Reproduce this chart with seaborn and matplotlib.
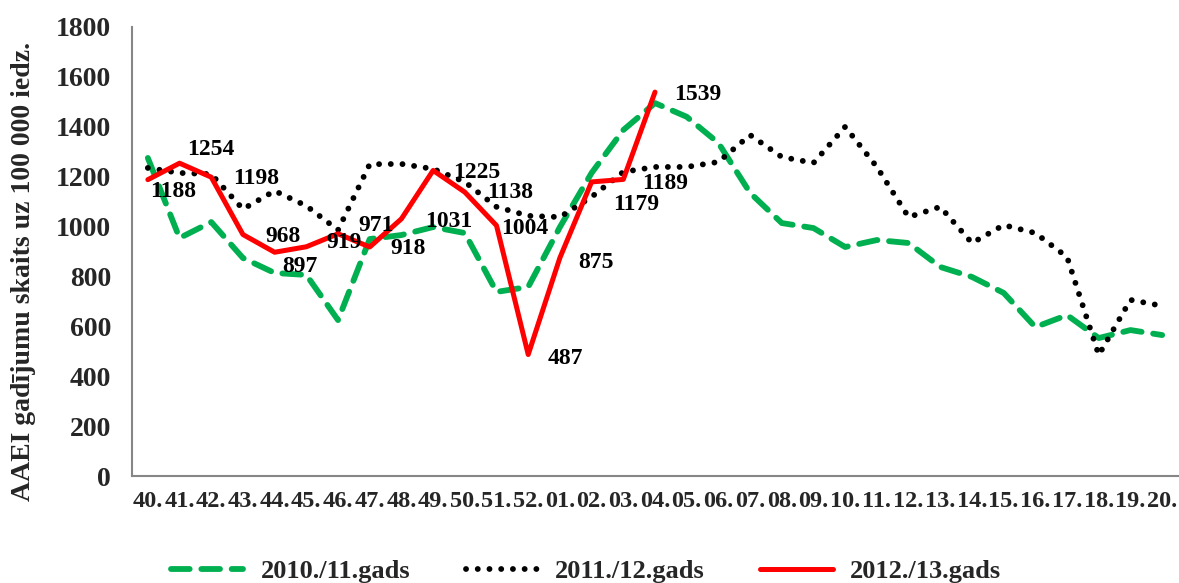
import numpy as np
import pandas as pd
import matplotlib
matplotlib.use("Agg")
import matplotlib.pyplot as plt
import seaborn as sns
from matplotlib.ticker import FixedLocator

weeks = ["40.", "41.", "42.", "43.", "44.", "45.", "46.", "47.", "48.", "49.", "50.",
         "51.", "52.", "01.", "02.", "03.", "04.", "05.", "06.", "07.", "08.", "09.",
         "10.", "11.", "12.", "13.", "14.", "15.", "16.", "17.", "18.", "19.", "20."]

s_2010 = [1275, 954, 1018, 874, 814, 806, 625, 950, 966, 998, 974, 738, 758, 998,
          1215, 1387, 1495, 1440, 1335, 1135, 1014, 994, 918, 946, 934, 838, 798,
          734, 597, 645, 553, 585, 565]
s_2011 = [1235, 1215, 1210, 1070, 1143, 1083, 986, 1250, 1251, 1231, 1179, 1079,
          1043, 1038, 1119, 1219, 1239, 1239, 1259, 1367, 1279, 1255, 1400, 1239,
          1038, 1079, 934, 1006, 974, 878, 485, 706, 682]
s_2012 = [1188, 1254, 1198, 968, 897, 919, 971, 918, 1031, 1225, 1138, 1004, 487,
          875, 1179, 1189, 1539]

series_names = ["2010./11.gads", "2011./12.gads", "2012./13.gads"]

# label offsets (pixels right / down from the point)
lbl_dx = [25, 31, 45, 40, 25, 38, 38, 38, 47, 44, 45, 28, 37, 36, 45, 42, 43]
lbl_dy = [12, -14, 1, 2, 14, -4, -8, 1, 3, 2, 0, 3, 4, 5, 23, 4, 2]

df1 = pd.DataFrame({"week": weeks, "val": s_2010})
df2 = pd.DataFrame({"week": weeks, "val": s_2011})
df3 = pd.DataFrame({"week": weeks[:len(s_2012)], "val": s_2012})

sns.set_style("white")
plt.rcParams["font.family"] = ["Liberation Serif", "DejaVu Serif"]
plt.rcParams["font.weight"] = "bold"

fig = plt.figure(figsize=(11.79, 5.83), dpi=100)
ax = fig.add_axes([132 / 1179, 107 / 583, 1046 / 1179, 449 / 583])

sns.lineplot(data=df1, x="week", y="val", ax=ax, color="#00B050", linewidth=4.2,
             label=series_names[0], sort=False)
sns.lineplot(data=df2, x="week", y="val", ax=ax, color="black", linewidth=4.2,
             label=series_names[1], sort=False)
sns.lineplot(data=df3, x="week", y="val", ax=ax, color="#FF0000", linewidth=3.6,
             label=series_names[2], sort=False)

lines = ax.get_lines()
lines[0].set_dashes([3.2, 2.0])
lines[1].set_dashes([0.01, 2.0])
lines[1].set_dash_capstyle("round")
lines[0].set_dash_capstyle("round")

for i, v in enumerate(s_2012):
    ax.annotate(str(v), xy=(i, v), xytext=(lbl_dx[i] * 0.72, -lbl_dy[i] * 0.72),
                textcoords="offset points", ha="center", va="center",
                fontsize=17, fontweight="bold", color="black")

ax.set_xlim(-0.5, len(weeks) - 0.5)
ax.set_ylim(0, 1800)
ax.set_yticks(np.arange(0, 1801, 200))
ax.xaxis.set_minor_locator(FixedLocator(np.arange(-0.5, len(weeks), 1)))
ax.tick_params(axis="x", which="major", length=0, pad=11, labelsize=17.5)
ax.tick_params(axis="x", which="minor", length=6, width=1.3, color="#868686", direction="out")
ax.tick_params(axis="y", length=6, width=1.3, color="#868686", direction="out",
               pad=9, labelsize=20)
for t in ax.get_xticklabels() + ax.get_yticklabels():
    t.set_fontweight("bold")

sns.despine(ax=ax)
for sp in ["left", "bottom"]:
    ax.spines[sp].set_color("#868686")
    ax.spines[sp].set_linewidth(1.5)

ax.set_xlabel("")
ax.set_ylabel("AAEI gadījumu skaits uz 100 000 iedz.", fontsize=20, fontweight="bold")
ax.yaxis.set_label_coords(-96 / 1046, 0.455)

leg = ax.legend(loc="center", bbox_to_anchor=(586 / 1179, 12 / 583),
                bbox_transform=fig.transFigure, ncol=3, frameon=False,
                handlelength=2.75, columnspacing=2.1, handletextpad=0.65,
                prop={"size": 19, "weight": "bold"})

fig.savefig("out.png", dpi=100)
